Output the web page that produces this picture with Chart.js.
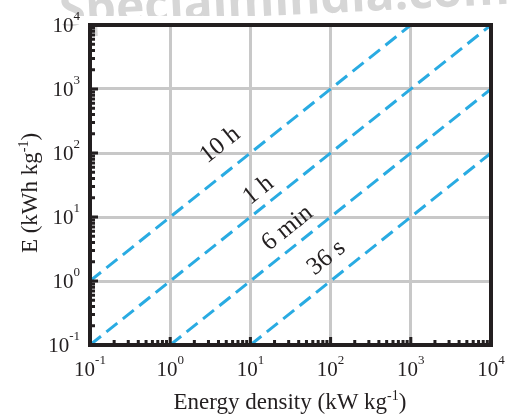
<!DOCTYPE html>
<html>
<head>
<meta charset="utf-8">
<script src="https://cdn.jsdelivr.net/npm/chart.js@4"></script>
<style>
  html, body { margin: 0; padding: 0; background: #fff; }
  #wrap { width: 508px; height: 416px; }
</style>
</head>
<body>
<div id="wrap"><canvas id="myChart"></canvas></div>
<script>
// decades for both axes
const decades = [0.1, 1, 10, 100, 1000, 10000];
const exponents = ['-1', '0', '1', '2', '3', '4'];

// discharge-time lines (power, energy end points)
const lineNames = ['10 h', '1 h', '6 min', '36 s'];
const linePower = [[0.1, 1000], [0.1, 10000], [1, 10000], [10, 10000]];
const lineEnergy = [[1, 10000], [0.1, 10000], [0.1, 1000], [0.1, 100]];

// where the line labels sit (data coords)
const labelPower = [4.2, 12.6, 29, 89];
const labelEnergy = [133, 26, 6.7, 2.3];

const blue = '#29abe2';
const serif = '"Liberation Serif", "Times New Roman", serif';

const datasets = lineNames.map((name, i) => ({
    label: name,
    data: linePower[i].map((p, j) => ({ x: p, y: lineEnergy[i][j] })),
    borderColor: blue,
    borderWidth: 3,
    borderDash: [14, 7],
    pointRadius: 0,
    showLine: true,
    fill: false
}));

// draw "10^n" with the exponent raised
function powLabel(ctx, exp, x, y, align) {
    ctx.font = '21px ' + serif;
    const wb = ctx.measureText('10').width;
    ctx.font = '13px ' + serif;
    const we = ctx.measureText(exp).width;
    let left = x;
    if (align === 'right') left = x - wb - we;
    if (align === 'center') left = x - (wb + we) / 2;
    ctx.textAlign = 'left';
    ctx.textBaseline = 'middle';
    ctx.font = '21px ' + serif;
    ctx.fillText('10', left, y);
    ctx.font = '13px ' + serif;
    ctx.fillText(exp, left + wb, y - 9);
}

// text with a "-1" superscript before the closing bracket
function supTitle(ctx, head, x, y) {
    ctx.font = '23px ' + serif;
    const w1 = ctx.measureText(head).width;
    const w2 = ctx.measureText(')').width;
    ctx.font = '14px ' + serif;
    const we = ctx.measureText('-1').width;
    const x0 = x - (w1 + we + w2) / 2;
    ctx.font = '23px ' + serif;
    ctx.fillText(head, x0, y);
    ctx.font = '14px ' + serif;
    ctx.fillText('-1', x0 + w1, y - 9);
    ctx.font = '23px ' + serif;
    ctx.fillText(')', x0 + w1 + we, y);
}

const decor = {
    id: 'decor',
    beforeDraw(chart) {
        // faint watermark at the very top
        const ctx = chart.ctx;
        ctx.save();
        ctx.translate(285, 15);
        ctx.rotate(-0.05);
        ctx.fillStyle = '#d6d6d6';
        ctx.font = 'bold 48px "Open Sans", sans-serif';
        ctx.textAlign = 'center';
        ctx.textBaseline = 'alphabetic';
        ctx.fillText('Specialmindia.com', 0, 0);
        ctx.restore();
        ctx.save();
        ctx.fillStyle = '#fff';
        ctx.fillRect(0, 16, 508, 8);
        ctx.restore();
    },
    afterDraw(chart) {
        const ctx = chart.ctx;
        const xs = chart.scales.x, ys = chart.scales.y;
        const a = chart.chartArea;
        ctx.save();
        ctx.fillStyle = '#231f20';
        ctx.strokeStyle = '#231f20';

        // minor + major inward ticks on left and bottom
        ctx.lineWidth = 3;
        decades.forEach(d => {
            for (let m = 1; m < 10; m++) {
                const v = d * m;
                if (v > 10000) break;
                const len = m === 1 ? 8 : 5;
                const px = xs.getPixelForValue(v);
                const py = ys.getPixelForValue(v);
                ctx.beginPath();
                ctx.moveTo(px, a.bottom);
                ctx.lineTo(px, a.bottom - len);
                ctx.moveTo(a.left, py);
                ctx.lineTo(a.left + len, py);
                ctx.stroke();
            }
        });

        // frame
        ctx.lineWidth = 4;
        ctx.strokeRect(a.left, a.top, a.right - a.left, a.bottom - a.top);

        // tick labels
        decades.forEach((d, k) => {
            powLabel(ctx, exponents[k], xs.getPixelForValue(d), a.bottom + 25, 'center');
            powLabel(ctx, exponents[k], a.left - 10, ys.getPixelForValue(d) + 1, 'right');
        });

        // axis titles
        ctx.textBaseline = 'alphabetic';
        ctx.textAlign = 'left';
        supTitle(ctx, 'Energy density (kW kg', 290, 409);

        ctx.save();
        ctx.translate(37, (a.top + a.bottom) / 2 + 8);
        ctx.rotate(-Math.PI / 2);
        supTitle(ctx, 'E (kWh kg', 0, 0);
        ctx.restore();

        // line labels, rotated along the lines
        const ang = Math.atan2(ys.getPixelForValue(1) - ys.getPixelForValue(10),
                               xs.getPixelForValue(10) - xs.getPixelForValue(1));
        lineNames.forEach((name, i) => {
            ctx.save();
            ctx.translate(xs.getPixelForValue(labelPower[i]), ys.getPixelForValue(labelEnergy[i]));
            ctx.rotate(-ang);
            ctx.font = '25px ' + serif;
            ctx.textAlign = 'center';
            ctx.textBaseline = 'middle';
            ctx.fillText(name, 0, 0);
            ctx.restore();
        });
        ctx.restore();
    }
};

const logAxis = {
    type: 'logarithmic',
    min: 0.1,
    max: 10000,
    afterBuildTicks: scale => { scale.ticks = decades.map(v => ({ value: v })); },
    ticks: { display: false },
    grid: { color: '#c8c8c8', lineWidth: 3, drawTicks: false },
    border: { display: false }
};

new Chart(document.getElementById('myChart').getContext('2d'), {
    type: 'scatter',
    data: { datasets },
    options: {
        responsive: true,
        maintainAspectRatio: false,
        animation: false,
        layout: { padding: { left: 90, right: 17, top: 25, bottom: 71 } },
        plugins: { legend: { display: false }, tooltip: { enabled: false } },
        scales: { x: logAxis, y: logAxis }
    },
    plugins: [decor]
});
</script>
</body>
</html>
